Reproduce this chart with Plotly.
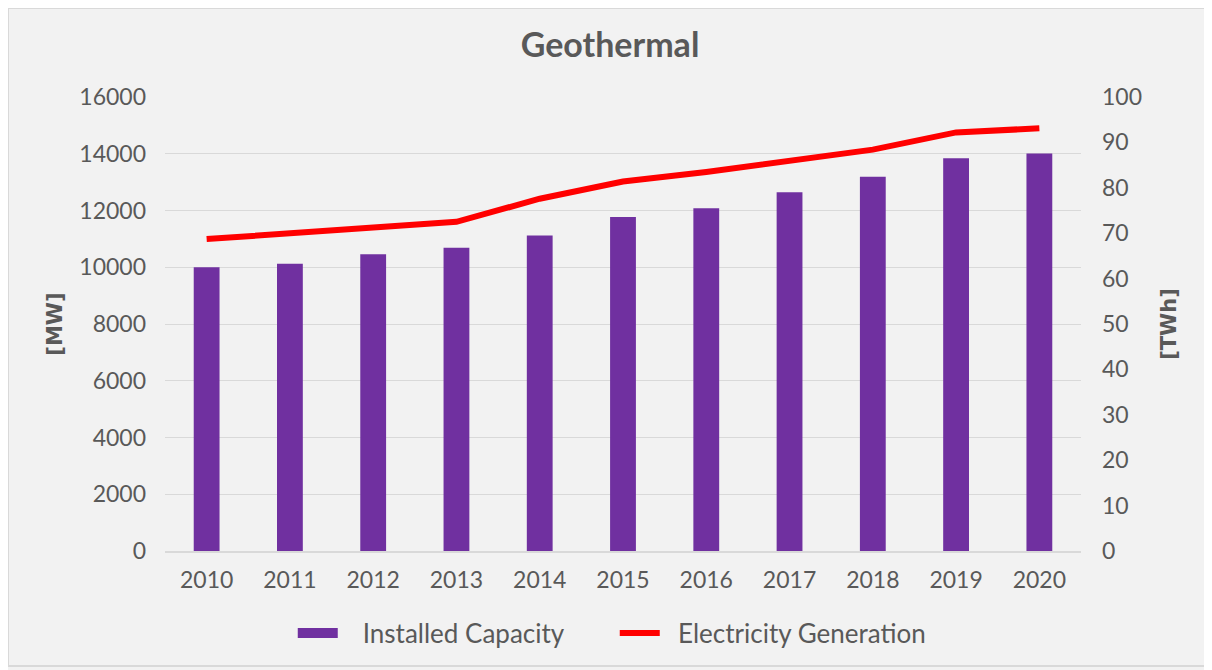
import plotly.graph_objects as go

# Geothermal: installed capacity vs electricity generation
years = ['2010', '2011', '2012', '2013', '2014', '2015', '2016', '2017', '2018', '2019', '2020']
capacity_mw = [10000, 10120, 10460, 10690, 11120, 11770, 12080, 12640, 13190, 13840, 14010]
generation_twh = [68.7, 70.0, 71.2, 72.5, 77.6, 81.4, 83.5, 85.9, 88.4, 92.2, 93.1]

grey = '#595959'
fnt = 'Lato'
purple = '#7030a0'
pad = '\u00a0' * 3  # gap between legend key and label

# page body has an 8px margin, so the figure is 8px smaller and shifted
W, H = 1204, 662
L, R, T, B = 157, 131, 89, 119
pw, ph = W - L - R, H - T - B

bar = go.Bar(x=years, y=capacity_mw, name='Installed Capacity', showlegend=False,
             marker=dict(color=purple, line=dict(width=0)), width=0.31)
line = go.Scatter(x=years, y=generation_twh, name='Electricity Generation', yaxis='y2',
                  mode='lines', line=dict(color='#ff0000', width=6), showlegend=False)
# legend proxies so the keys look like the original
bar_key = go.Scatter(x=[None], y=[None], name=pad + 'Installed Capacity', mode='lines',
                     line=dict(color=purple, width=14))
line_key = go.Scatter(x=[None], y=[None], name='\u00a0' * 2 + 'Electricity Generation', mode='lines',
                      line=dict(color='#ff0000', width=6))

fig = go.Figure(data=[bar, line, bar_key, line_key])
fig.update_layout(
    width=W, height=H,
    margin=dict(l=L, r=R, t=T, b=B),
    paper_bgcolor='#f2f2f2', plot_bgcolor='rgba(0,0,0,0)',
    font=dict(family=fnt, color=grey, size=23),
    title=dict(text='<b>Geothermal</b>', x=0.5, xanchor='center', y=1 - 37 / H, yanchor='middle',
               font=dict(size=34, color=grey, family=fnt)),
    xaxis=dict(showgrid=False, showline=True, linecolor='#d9d9d9', linewidth=1.5,
               ticks='', ticklabelstandoff=8, tickfont=dict(size=23)),
    yaxis=dict(range=[0, 16000], dtick=2000, tickformat='d', showgrid=True,
               gridcolor='#d9d9d9', gridwidth=1.2, zeroline=False, ticks='',
               ticklabelstandoff=18, tickfont=dict(size=23),
               title=dict(text='<b>[MW]</b>', standoff=10,
                          font=dict(size=21, color=grey, family='DejaVu Sans', weight='bold'))),
    yaxis2=dict(range=[0, 100], dtick=10, overlaying='y', side='right', showgrid=False,
                zeroline=False, ticks='', ticklabelstandoff=20, tickfont=dict(size=23),
                title=dict(text='<b>[TWh]</b>', standoff=20,
                           font=dict(size=21, color=grey, family='DejaVu Sans', weight='bold'))),
    legend=dict(orientation='h', x=0.491, xanchor='center', y=-(625 - (T + ph)) / ph,
                yanchor='middle', font=dict(size=26, color=grey), bgcolor='rgba(0,0,0,0)',
                itemwidth=40, entrywidth=267, entrywidthmode='pixels'),
    bargap=0.69,
    shapes=[dict(type='rect', xref='paper', yref='paper',
                 x0=-L / pw, x1=(1200 - L) / pw, y0=-(658 - T - ph) / ph, y1=1 + T / ph,
                 fillcolor='#f2f2f2', line=dict(color='#d9d9d9', width=2), layer='below')],
)

fig.write_html('out.html')
